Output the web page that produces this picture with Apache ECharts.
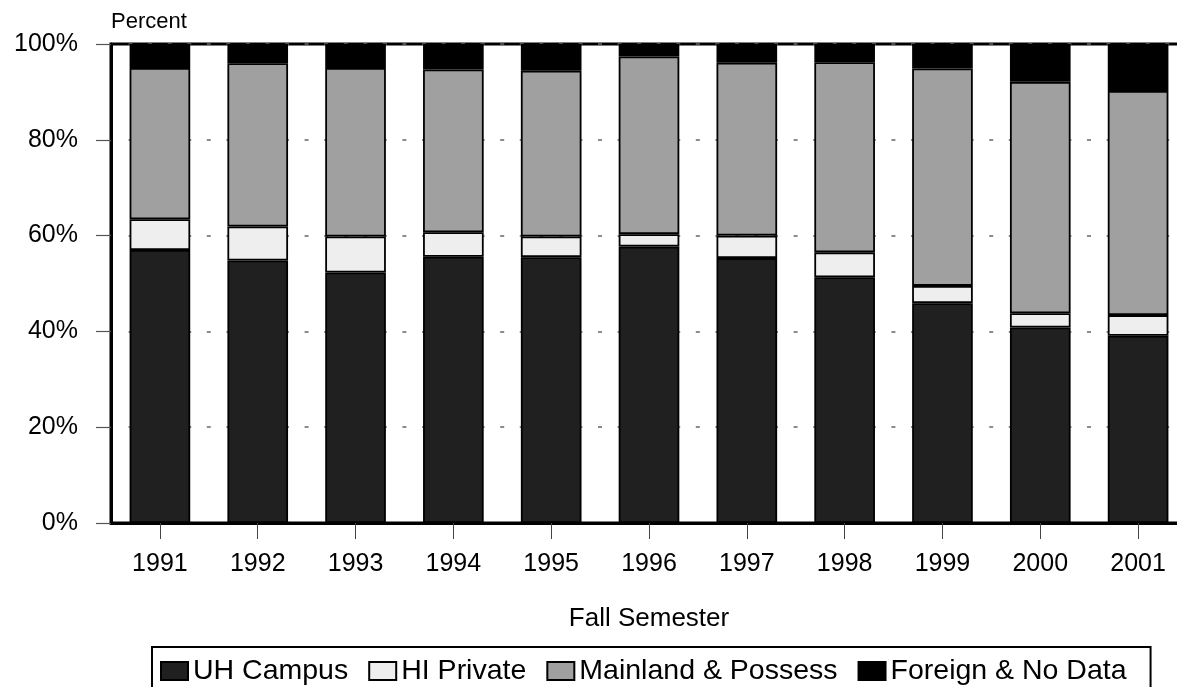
<!DOCTYPE html>
<html>
<head>
<meta charset="utf-8">
<script src="https://cdn.jsdelivr.net/npm/echarts@6/dist/echarts.min.js"></script>
<style>
html,body{margin:0;padding:0;background:#fff;}
#chart{width:1177px;height:687px;}
</style>
</head>
<body>
<div id="chart"></div>
<script>
const categories = ['1991','1992','1993','1994','1995','1996','1997','1998','1999','2000','2001'];
const seriesNames = ['UH Campus','HI Private','Mainland & Possess','Foreign & No Data'];
const uhCampus = [57.0, 54.8, 52.3, 55.6, 55.5, 57.7, 55.3, 51.3, 45.9, 40.8, 39.1];
const hiPrivate = [6.4, 7.1, 7.5, 5.1, 4.3, 2.6, 4.7, 5.2, 3.6, 3.0, 4.3];
const mainland = [31.6, 34.1, 35.2, 34.0, 34.6, 37.1, 36.1, 39.7, 45.4, 48.3, 46.8];
const foreign = [5.0, 4.0, 5.0, 5.3, 5.6, 2.6, 3.9, 3.8, 5.1, 7.9, 9.8];
const yTicks = [0, 20, 40, 60, 80, 100];

const colors = ['#202020', '#eeeeee', '#a0a0a0', '#000000'];
const values = [uhCampus, hiPrivate, mainland, foreign];
const FONT = '"Liberation Sans", Arial, sans-serif';

const chart = echarts.init(document.getElementById('chart'));
chart.setOption({
  animation: false,
  backgroundColor: '#ffffff',
  grid: {
    left: 111, width: 1076, top: 44, height: 479,
    outerBoundsMode: 'none',
    containLabel: false,
    show: true, borderColor: '#000', borderWidth: 3, backgroundColor: 'transparent'
  },
  legend: {
    data: seriesNames,
    left: 152, top: 647,
    orient: 'horizontal',
    icon: 'rect',
    itemWidth: 27, itemHeight: 18,
    itemGap: 20,
    padding: [8, 24, 30, 8],
    borderColor: '#000', borderWidth: 2,
    textStyle: { fontFamily: FONT, fontSize: 28.5, color: '#000', lineHeight: 32 },
    selectedMode: false
  },
  xAxis: {
    type: 'category',
    data: categories,
    name: 'Fall Semester',
    nameLocation: 'middle',
    nameGap: 83,
    nameTextStyle: { fontFamily: FONT, fontSize: 26, color: '#000' },
    axisLine: { show: true, lineStyle: { color: '#000', width: 3 } },
    axisTick: { show: true, alignWithLabel: true, length: 16, lineStyle: { color: '#444', width: 1 } },
    axisLabel: { fontFamily: FONT, fontSize: 25, color: '#000', margin: 29 },
    splitLine: { show: false }
  },
  yAxis: {
    type: 'value',
    min: yTicks[0], max: yTicks[yTicks.length - 1], interval: 20,
    name: 'Percent',
    nameLocation: 'end',
    nameGap: 22,
    nameTextStyle: { fontFamily: FONT, fontSize: 22, color: '#000', align: 'left', verticalAlign: 'middle' },
    axisLine: { show: true, lineStyle: { color: '#000', width: 3 } },
    axisTick: { show: true, inside: false, length: 15, lineStyle: { color: '#555', width: 1.2 } },
    axisLabel: { fontFamily: FONT, fontSize: 25, color: '#000', margin: 33, formatter: '{value}%' },
    splitLine: {
      show: true,
      lineStyle: { color: '#666', width: 1.5, type: [4, 15.56], dashOffset: 2 }
    }
  },
  series: seriesNames.map((name, i) => ({
    name: name,
    type: 'bar',
    stack: 'total',
    data: values[i],
    barCategoryGap: '38%',
    itemStyle: { color: colors[i], borderColor: '#000', borderWidth: 1.8 },
    emphasis: { disabled: true }
  }))
});
</script>
</body>
</html>
